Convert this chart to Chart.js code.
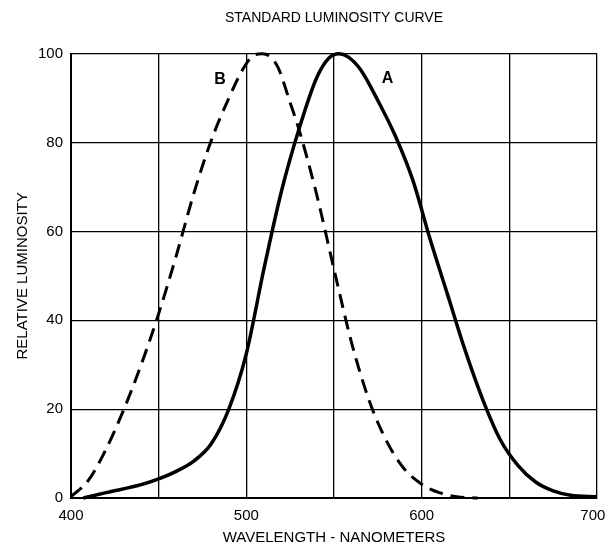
<!DOCTYPE html>
<html>
<head>
<meta charset="utf-8">
<script src="https://cdn.jsdelivr.net/npm/chart.js@4/dist/chart.umd.min.js"></script>
<style>
  html,body{margin:0;padding:0;background:#fff;}
  #wrap{width:607px;height:548px;}
</style>
</head>
<body>
<div id="wrap"><canvas id="lumChart"></canvas></div>
<script>
// curve A (photopic)
const wlA=[407,420,440,450,460,470,480,490,500,510,520,530,540,547,553,558,565,575,585,595,605,615,625,635,645,655,665,675,685,700];
const lumA=[0,1.2,3.0,4.3,6.0,8.3,12.2,20,32.5,51.5,69,83,94.5,99,100,99.3,96.5,89.5,81.5,71.5,58,45.5,33,22,13,7.3,3.6,1.6,0.6,0.3];
// curve B (scotopic, dashed)
const wlB=[400,410,420,430,440,450,460,470,480,490,498,504,509,513,518,525,530,540,550,560,570,580,590,600,610,620,632];
const lumB=[0.3,4,11,19.8,30,41.5,54.5,68.5,80.5,90,96.5,99.6,100,99.5,97,89,83,68.5,51.5,35,22,12.8,6.6,3.1,1.2,0.3,0];
// tick labels
const xTicks=[400,450,500,550,600,650,700];
const xTickLabels=['400','','500','','600','','700'];
const yTicks=[0,20,40,60,80,100];
// curve labels
const curveNames=['A','B'];
const curveNameX=[580.5,485];
const curveNameY=[94.5,94.3];

const ctx=document.getElementById('lumChart').getContext('2d');

const curveLabels={
    id:'curveLabels',
    afterDatasetsDraw(chart){
        const c=chart.ctx;
        const xs=chart.scales.x, ys=chart.scales.y;
        c.save();
        c.fillStyle='#000';
        c.font='bold 16px "Liberation Sans", Arial, sans-serif';
        c.textAlign='center';
        c.textBaseline='middle';
        curveNames.forEach((n,i)=>{
            c.fillText(n, xs.getPixelForValue(curveNameX[i]), ys.getPixelForValue(curveNameY[i]));
        });
        c.restore();
    }
};

const font='"Liberation Sans", Arial, sans-serif';

new Chart(ctx,{
    type:'line',
    data:{
        datasets:[{
            label:'A',
            data:wlA.map((w,i)=>({x:w,y:lumA[i]})),
            borderColor:'#000',
            borderWidth:3.5,
            pointRadius:0,
            fill:false,
            cubicInterpolationMode:'monotone',
            clip:6
        },{
            label:'B',
            data:wlB.map((w,i)=>({x:w,y:lumB[i]})),
            borderColor:'#000',
            borderWidth:3,
            borderDash:[14,8],
            pointRadius:0,
            fill:false,
            cubicInterpolationMode:'monotone',
            clip:6
        }]
    },
    options:{
        responsive:true,
        maintainAspectRatio:false,
        animation:false,
        layout:{padding:{right:10}},
        plugins:{
            legend:{display:false},
            tooltip:{enabled:false},
            title:{
                display:true,
                text:'STANDARD LUMINOSITY CURVE',
                fullSize:false,
                color:'#000',
                font:{family:font,size:14,weight:'normal'},
                padding:{top:10,bottom:27}
            }
        },
        scales:{
            x:{
                type:'linear',
                min:400,
                max:700,
                afterBuildTicks:s=>{ s.ticks=xTicks.map(v=>({value:v})); },
                afterFit:s=>{ s.height=50; s.paddingLeft=0; s.paddingRight=0; },
                grid:{color:'#000',lineWidth:1.3,drawTicks:false},
                border:{color:'#000',width:2},
                ticks:{
                    color:'#000',
                    padding:9,
                    font:{family:font,size:15},
                    maxRotation:0,
                    autoSkip:false,
                    // last label sits against the edge, pad it so it is not cut off
                    callback:(v,i)=> i==xTicks.length-1 ? xTickLabels[i]+'\u00a0\u00a0' : xTickLabels[i]
                },
                title:{
                    display:true,
                    text:'WAVELENGTH - NANOMETERS',
                    color:'#000',
                    font:{family:font,size:15},
                    padding:{top:0,bottom:1}
                }
            },
            y:{
                min:0,
                max:100,
                afterBuildTicks:s=>{ s.ticks=yTicks.map(v=>({value:v})); },
                afterFit:s=>{ s.width=71; },
                grid:{color:'#000',lineWidth:1.3,drawTicks:false},
                border:{color:'#000',width:2},
                ticks:{
                    color:'#000',
                    padding:8,
                    font:{family:font,size:15}
                },
                title:{
                    display:true,
                    text:'RELATIVE LUMINOSITY',
                    color:'#000',
                    font:{family:font,size:15},
                    padding:{top:14,bottom:0}
                }
            }
        }
    },
    plugins:[curveLabels]
});
</script>
</body>
</html>
